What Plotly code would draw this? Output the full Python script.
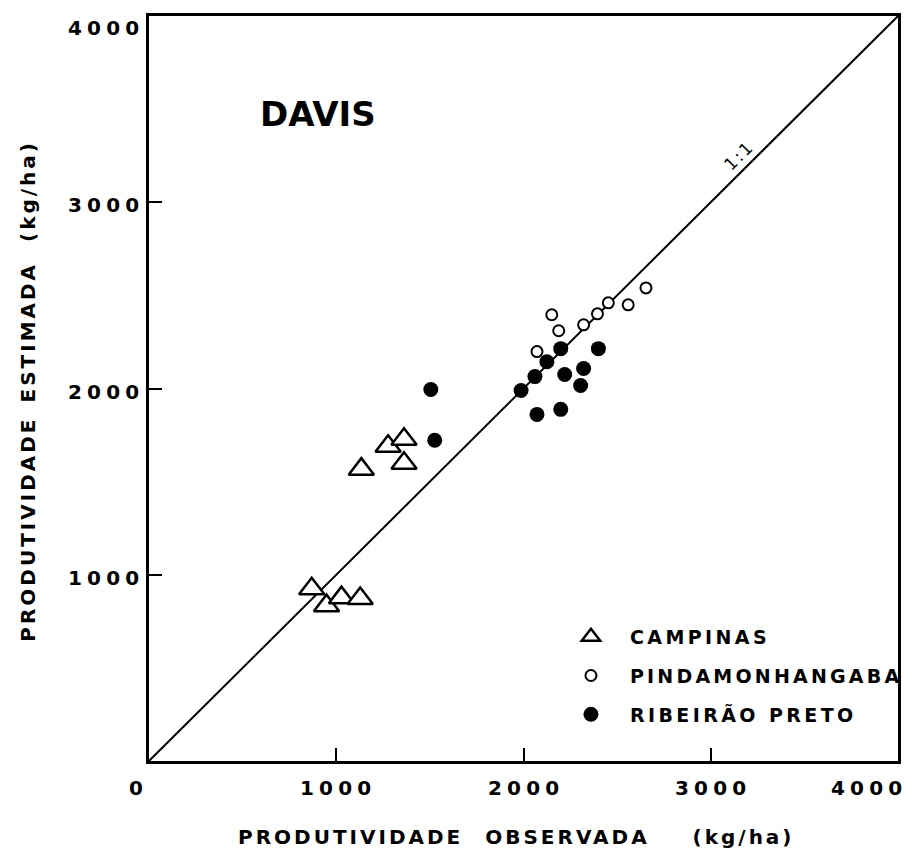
import plotly.graph_objects as go

# ---- data ----
campinas_x = [869, 948, 1028, 1128, 1134, 1277, 1362, 1362]
campinas_y = [925, 834, 877, 872, 1567, 1690, 1727, 1599]

pinda_x = [2151, 2188, 2072, 2321, 2395, 2453, 2559, 2654]
pinda_y = [2396, 2310, 2198, 2342, 2401, 2460, 2449, 2540]

ribeirao_x = [1505, 1526, 2199, 2400, 2125, 2061, 2220, 2321, 2305, 1987, 2072, 2199]
ribeirao_y = [1995, 1722, 2214, 2214, 2144, 2064, 2075, 2107, 2016, 1989, 1861, 1888]

line_x = [0, 4000]
line_y = [0, 4000]

tick_vals = [1000, 2000, 3000]
x_tick_vals = [0, 1000, 2000, 3000, 4000]
x_tick_text = ["0", "1000", "2000", "3000", "4000"]
y_tick_vals = [1000, 2000, 3000, 4000]
y_tick_text = ["1000", "2000", "3000", "4000"]

series_names = ["CAMPINAS", "PINDAMONHANGABA", "RIBEIRÃO PRETO"]
title_text = "DAVIS"
x_title_words = ["PRODUTIVIDADE OBSERVADA", "(kg/ha)"]
y_title_words = ["PRODUTIVIDADE ESTIMADA", "(kg/ha)"]
ratio_label = "1:1"

FONT = "DejaVu Sans"


def spaced(t, ls=3, ws=0):
    return f'<span style="letter-spacing:{ls}px;word-spacing:{ws}px">{t}</span>'


def bold(t):
    return f"<b>{t}</b>"


fig = go.Figure()

fig.add_trace(go.Scatter(x=line_x, y=line_y, mode="lines",
                         line=dict(color="black", width=2), showlegend=False,
                         hoverinfo="skip"))

fig.add_trace(go.Scatter(x=campinas_x, y=campinas_y, mode="markers",
                         name=bold(spaced(series_names[0], 3.4)), legendgroup="a",
                         marker=dict(symbol="triangle-up", size=22, color="white",
                                     line=dict(color="black", width=2.5))))
fig.add_trace(go.Scatter(x=pinda_x, y=pinda_y, mode="markers",
                         name=bold(spaced(series_names[1], 3.2)), legendgroup="b",
                         marker=dict(symbol="circle", size=11, color="white",
                                     line=dict(color="black", width=2))))
fig.add_trace(go.Scatter(x=ribeirao_x, y=ribeirao_y, mode="markers",
                         name=bold(spaced(series_names[2], 3.4)), legendgroup="c",
                         marker=dict(symbol="circle", size=15, color="black",
                                     line=dict(color="black", width=0))))

annotations = []
# x tick labels
x_shifts = {0: -13, 4000: -31}
for v, t in zip(x_tick_vals, x_tick_text):
    annotations.append(dict(x=v, xref="x", y=0, yref="paper", text=bold(spaced(t, 5.2)),
                            showarrow=False, xanchor="center", yanchor="middle",
                            yshift=-27, xshift=x_shifts.get(v, 0) + 2,
                            font=dict(family=FONT, size=20, color="black")))
# y tick labels
y_shifts = {4000: -12}
for v, t in zip(y_tick_vals, y_tick_text):
    annotations.append(dict(x=0, xref="paper", y=v, yref="y", text=bold(spaced(t, 5.2)),
                            showarrow=False, xanchor="right", yanchor="middle",
                            xshift=-3, yshift=y_shifts.get(v, -3),
                            font=dict(family=FONT, size=20, color="black")))
# axis titles
x_title_html = bold(spaced(x_title_words[0], 3, 12) + spaced(" " + x_title_words[1], 3, 33))
y_title_html = bold(spaced(y_title_words[0], 3, 4) + spaced(" " + y_title_words[1], 3, 10))
annotations.append(dict(x=0.491, xref="paper", y=0, yref="paper", text=x_title_html,
                        showarrow=False, xanchor="center", yanchor="middle", yshift=-76,
                        font=dict(family=FONT, size=20, color="black")))
annotations.append(dict(x=0, xref="paper", y=0.497, yref="paper", text=y_title_html,
                        showarrow=False, xanchor="center", yanchor="middle", xshift=-121,
                        textangle=-90,
                        font=dict(family=FONT, size=20, color="black")))
# title inside plot
annotations.append(dict(x=0.226, xref="paper", y=0.869, yref="paper", text=bold(title_text),
                        showarrow=False, xanchor="center", yanchor="middle",
                        font=dict(family=FONT, size=34, color="black")))
# 1:1 label
annotations.append(dict(x=3147, xref="x", y=3251, yref="y", text=spaced(ratio_label, 2),
                        showarrow=False, xanchor="center", yanchor="middle", textangle=-45,
                        font=dict(family=FONT, size=17, color="black")))

axis_common = dict(range=[0, 4000], tickvals=tick_vals, ticks="inside", ticklen=13,
                   tickwidth=2, tickcolor="black", showticklabels=False,
                   showgrid=False, zeroline=False, showline=True, linecolor="black",
                   linewidth=3, mirror=True, fixedrange=True)

# page body has an 8px default margin, so the figure is sized/offset to compensate
fig.update_layout(
    width=905, height=850,
    margin=dict(l=141, r=9, t=5, b=97),
    paper_bgcolor="white", plot_bgcolor="white",
    xaxis=axis_common, yaxis=axis_common,
    annotations=annotations,
    showlegend=True,
    legend=dict(x=0.538, y=0.192, xanchor="left", yanchor="top", itemwidth=68,
                bgcolor="rgba(0,0,0,0)", borderwidth=0, tracegroupgap=11,
                font=dict(family=FONT, size=19, color="black"), traceorder="grouped"),
    font=dict(family=FONT, color="black"),
)

fig.write_html("out.html")
